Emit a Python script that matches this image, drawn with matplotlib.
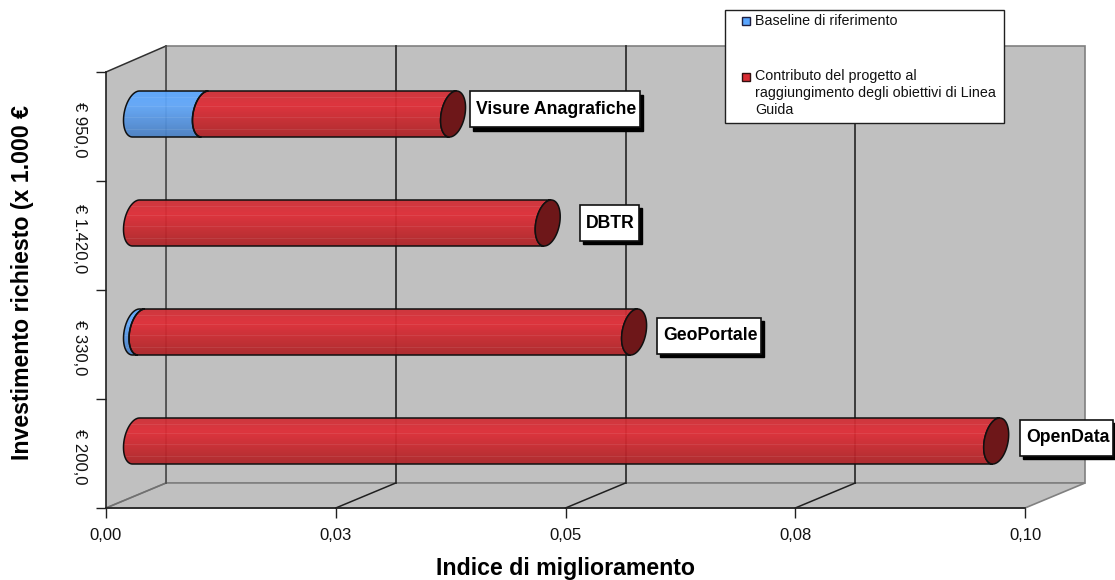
import matplotlib
matplotlib.use('Agg')
import matplotlib.pyplot as plt
from matplotlib.colors import to_rgb
from matplotlib.patches import Polygon, Rectangle
import numpy as np

plt.rcParams['font.family'] = ['Liberation Sans', 'DejaVu Sans']

progetti = ['OpenData', 'GeoPortale', 'DBTR', 'Visure Anagrafiche']
investimento = ['€ 200,0', '€ 330,0', '€ 1.420,0', '€ 950,0']
baseline = [0.0, 0.0006, 0.0, 0.0075]
contributo = [0.0936, 0.0536, 0.0448, 0.0270]
x_ticks = [0.0, 0.025, 0.05, 0.075, 0.10]
x_labels = ['0,00', '0,03', '0,05', '0,08', '0,10']
legend_baseline = 'Baseline di riferimento'
legend_contributo = ['Contributo del progetto al', 'raggiungimento degli obiettivi di Linea', 'Guida']

fig = plt.figure(figsize=(11.15, 5.8), dpi=100)

# sfondo in pixel: pareti e pavimento del grafico 3d
bg = fig.add_axes([0, 0, 1, 1])
bg.set_xlim(0, 1115)
bg.set_ylim(580, 0)
bg.axis('off')

L, R, T, B = 106, 1025, 72, 508
DX, DY = 60, 25
grigio = '#c0c0c0'
bg.add_patch(Polygon([(L+DX, T-DY-1), (R+DX, T-DY-1), (R+DX, B-DY), (L+DX, B-DY)], fc=grigio, ec='#808080', lw=1.2))
bg.add_patch(Polygon([(L, T), (L+DX, T-DY-1), (L+DX, B-DY), (L, B)], fc=grigio, ec='none'))
bg.add_patch(Polygon([(L, B), (L+DX, B-DY), (R+DX, B-DY), (R, B)], fc=grigio, ec='#808080', lw=1.2))
bg.plot([L, L+DX], [T, T-DY-1], color='#303030', lw=1.1)
bg.plot([L, L+DX], [B, B-DY], color='#707070', lw=1.1)
for t in x_ticks[:-1]:
    xp = L + (R-L)*t/0.10
    bg.plot([xp+DX, xp+DX], [T-DY-1, B-DY], color='#505050' if t == 0 else '#303030', lw=1.3)
    if t > 0:
        bg.plot([xp, xp+DX], [B, B-DY], color='#202020', lw=1.1)

ux = 0.10/(R-L)   # un pixel in unita' dati
uy = 4.0/(B-T)

# assi principali, con le scale dei dati
ax = fig.add_axes([L/1115, (580-B)/580, (R-L)/1115, (B-T)/580])
ax.patch.set_alpha(0)
for s in ['top', 'right']:
    ax.spines[s].set_visible(False)
for s in ['left', 'bottom']:
    ax.spines[s].set_color('#202020')
    ax.spines[s].set_linewidth(1.2)
ax.set_xticks(x_ticks)
ax.set_xticklabels(x_labels, fontsize=12, color='#111111')
ax.set_yticks(range(5))
ax.set_yticks([i + 0.5 - 3.5*uy for i in range(4)], minor=True)
ax.set_yticklabels([])
ax.set_yticklabels(investimento, minor=True, rotation=-90, va='center', fontsize=12, color='#111111')
ax.tick_params(axis='both', which='major', length=7.2, width=1, color='#202020')
ax.tick_params(axis='y', which='minor', length=0, pad=13.5)
ax.tick_params(axis='x', pad=7)
ax.set_xlabel('Indice di miglioramento', fontsize=16.7, fontweight='bold', labelpad=10)
ax.set_ylabel('Investimento richiesto (x 1.000 €', fontsize=16.7, fontweight='bold')
ax.yaxis.set_label_coords(-0.0785, 0.517)

off_x = 30*ux     # centro del cilindro a meta' profondita'
off_y = 12.5*uy
raggio_y = 23*uy
raggio_x = 12*ux
skew = 3.5*ux


def bordo(x0, yc, t):
    # ellisse inclinata della sezione del cilindro
    xs = x0 + raggio_x*np.cos(t) + skew*np.sin(t)
    ys = yc + raggio_y*np.sin(t)
    return xs, ys


def gradiente(c_top, c_mid, c_bot):
    rows = np.linspace(0, 1, 46)
    img = np.zeros((46, 1, 3))
    for i, r in enumerate(rows):
        if r < 0.3:
            c = np.array(c_top) + (np.array(c_mid)-np.array(c_top))*r/0.3
        else:
            c = np.array(c_mid) + (np.array(c_bot)-np.array(c_mid))*(r-0.3)/0.7
        img[i, 0] = c
    # righe chiare orizzontali del riempimento
    for i in [6, 15, 26, 38]:
        img[i, 0] = img[i, 0]*0.92 + 0.08
    return img


def cilindro(x0, x1, yc, colori):
    t1 = np.linspace(np.pi/2, 3*np.pi/2, 40)
    t2 = np.linspace(3*np.pi/2, np.pi/2, 40)
    xa, ya = bordo(x0, yc, t1)
    xb, yb = bordo(x1, yc, t2)
    pts = np.column_stack([np.r_[xa, xb], np.r_[ya, yb]])
    sagoma = Polygon(pts, closed=True, fc='none', ec='#101010', lw=1.1, zorder=4, clip_on=False)
    clip = Polygon(pts, closed=True, transform=ax.transData)
    im = ax.imshow(gradiente(*colori), extent=[x0-2*raggio_x, x1+2*raggio_x, yc-raggio_y, yc+raggio_y],
                   aspect='auto', zorder=3, alpha=0.94, interpolation='nearest')
    im.set_clip_path(clip)
    ax.add_patch(sagoma)


rosso = (to_rgb('#cf2f36'), to_rgb('#e02c35'), to_rgb('#ad2327'))
blu = (to_rgb('#5aa6ff'), to_rgb('#62a8fa'), to_rgb('#4a80c4'))
# spostamento delle etichette rispetto alla fine della barra, in pixel
dx_label = [71.5, 76, 62.5, 103]
dy_label = [3, -3.5, 0, 4.5]

ax.set_xlim(0, 0.10)
ax.set_ylim(0, 4)
renderer = fig.canvas.get_renderer()

for i, nome in enumerate(progetti):
    yc = i + 0.5 + off_y
    inizio = off_x
    fine_base = inizio + baseline[i]
    fine = fine_base + contributo[i]
    if baseline[i] > 0:
        cilindro(inizio, fine_base, yc, blu)
    cilindro(fine_base, fine, yc, rosso)
    # tappo scuro a destra
    tt = np.linspace(0, 2*np.pi, 80)
    xc, yc2 = bordo(fine, yc, tt)
    ax.fill(xc, yc2, fc='#6e1719', ec='#101010', lw=1.1, zorder=5, clip_on=False)

    # etichetta con riquadro bianco e ombra nera
    lx = fine + dx_label[i]*ux
    ly = yc + dy_label[i]*uy
    txt = ax.text(lx, ly, nome, fontsize=12.7, fontweight='bold', ha='center', va='center', zorder=8, color='black')
    w = txt.get_window_extent(renderer).width*ux + 10*ux
    h = 36*uy
    ax.add_patch(Rectangle((lx - w/2 - 1*ux + 3*ux, ly - h/2 - 3*uy), w, h, fc='black', ec='black', lw=1, zorder=6, clip_on=False))
    ax.add_patch(Rectangle((lx - w/2 - 1*ux, ly - h/2), w, h, fc='white', ec='#111111', lw=1.2, zorder=7, clip_on=False))

ax.set_xlim(0, 0.10)
ax.set_ylim(0, 4)

# legenda sopra il grafico
lg = fig.add_axes([0, 0, 1, 1], zorder=10)
lg.set_xlim(0, 1115)
lg.set_ylim(580, 0)
lg.axis('off')
lg.add_patch(Rectangle((725, 10), 279, 113, fc='white', ec='#202020', lw=1))
lg.add_patch(Rectangle((741.5, 17), 8, 8, fc='#5aa6ff', ec='#202040', lw=1))
lg.add_patch(Rectangle((741.5, 73), 8, 8, fc='#d92c33', ec='#301010', lw=1))
lg.text(755, 21, legend_baseline, fontsize=10.25, va='center', color='#111111')
for riga, yp in zip(legend_contributo, [76, 93, 110]):
    lg.text(755, yp, riga, fontsize=10.25, va='center', color='#111111')

fig.savefig('out.png', dpi=100)
